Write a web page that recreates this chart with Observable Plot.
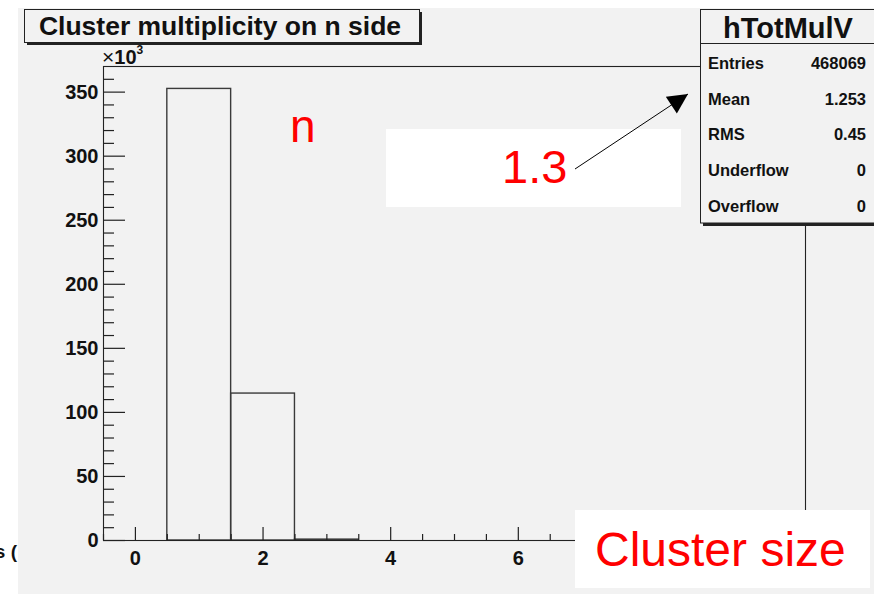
<!DOCTYPE html>
<html>
<head>
<meta charset="utf-8">
<script src="https://cdn.jsdelivr.net/npm/d3@7"></script>
<script src="https://cdn.jsdelivr.net/npm/@observablehq/plot@0.6"></script>
<style>
  html, body { margin: 0; padding: 0; background: #ffffff; }
  #wrap { position: relative; width: 874px; height: 595px; overflow: hidden; font-family: "Liberation Sans", Arial, Helvetica, sans-serif; }
  #pad { position: absolute; left: 18px; top: 8px; width: 856px; height: 586px; background: #f2f2f2; }
  #chart { position: absolute; left: 0; top: 0; }
  #overlay { position: absolute; left: 0; top: 0; pointer-events: none; }
</style>
</head>
<body>
<div id="wrap">
  <div id="pad"></div>
  <div id="chart"></div>
  <svg id="overlay" width="874" height="595"></svg>
</div>
<script>
// ---- data ----
const binCenters = [0, 1, 2, 3, 4, 5, 6, 7, 8, 9, 10];
const binCounts  = [0, 352500, 114700, 700, 0, 0, 0, 0, 0, 0, 0];
const xMajorTicks = [0, 2, 4, 6, 8, 10];
const xLabelTicks = [0, 2, 4, 6];          // 8 and 10 are hidden under the "Cluster size" box
const xMinorTicks = [-0.5, 0.5, 1, 1.5, 2.5, 3, 3.5, 4.5, 5, 5.5, 6.5, 7, 7.5, 8.5, 9, 9.5, 10.5];
const yMajorTicks = [0, 50000, 100000, 150000, 200000, 250000, 300000, 350000];
const yMinorTicks = d3.range(0, 361000, 10000).filter(v => v % 50000 !== 0);
const chartTitle = "Cluster multiplicity on n side";
const histName = "hTotMulV";
const statNames  = ["Entries", "Mean", "RMS", "Underflow", "Overflow"];
const statValues = ["468069", "1.253", "0.45", "0", "0"];
const noteSide = "n";
const noteMean = "1.3";
const noteAxis = "Cluster size";

const hist = binCenters.map((c, i) => ({x1: c - 0.5, x2: c + 0.5, count: binCounts[i]}));

const font = "Liberation Sans, Arial, Helvetica, sans-serif";
const chart = Plot.plot({
  width: 874,
  height: 595,
  marginLeft: 103,
  marginRight: 69,
  marginTop: 66,
  marginBottom: 55,
  style: {background: "transparent", fontFamily: font, color: "#111", overflow: "visible"},
  x: {domain: [-0.5, 10.5]},
  y: {domain: [0, 370000]},
  marks: [
    Plot.rect(hist, {x1: "x1", x2: "x2", y1: () => 0, y2: "count", fill: "none", stroke: "#3a3a3a", strokeWidth: 1.4}),
    Plot.axisX(xMinorTicks, {tickSize: -6, fill: "none", label: null, stroke: "#222", strokeWidth: 1.2}),
    Plot.axisX(xMajorTicks, {tickSize: -13, fill: "none", label: null, stroke: "#222", strokeWidth: 1.2}),
    Plot.axisX(xLabelTicks, {tickSize: 0, tickPadding: 10, fontSize: 20, fontWeight: "bold", label: null, tickFormat: d => String(d)}),
    Plot.axisY(yMinorTicks, {tickSize: -11, fill: "none", label: null, stroke: "#222", strokeWidth: 1.2}),
    Plot.axisY(yMajorTicks, {tickSize: -22, fill: "none", label: null, stroke: "#222", strokeWidth: 1.2}),
    Plot.axisY(yMajorTicks, {tickSize: 0, tickPadding: 5, fontSize: 20, fontWeight: "bold", label: null, tickFormat: d => String(d / 1000)}),
    Plot.frame({stroke: "#222", strokeWidth: 1.1})
  ]
});
document.getElementById("chart").appendChild(chart);

// ---- overlay: title box, exponent, stats box, annotations ----
const svg = d3.select("#overlay");
const defs = svg.append("defs");
defs.append("marker").attr("id", "head").attr("viewBox", "0 0 10 10")
  .attr("refX", 10).attr("refY", 5).attr("markerWidth", 26).attr("markerHeight", 20)
  .attr("markerUnits", "userSpaceOnUse").attr("orient", "auto")
  .append("path").attr("d", "M0,0 L10,5 L0,10 Z").attr("fill", "#000");

// stray clipped text at far left
svg.append("text").attr("x", 17).attr("y", 558).attr("text-anchor", "end")
  .attr("font-family", font).attr("font-size", 19).attr("font-weight", "bold").attr("fill", "#111").text("s (");

// title box with shadow
svg.append("rect").attr("x", 27).attr("y", 12).attr("width", 395).attr("height", 33).attr("fill", "#222");
svg.append("rect").attr("x", 24.5).attr("y", 9.5).attr("width", 395).attr("height", 33)
  .attr("fill", "#f2f2f2").attr("stroke", "#222").attr("stroke-width", 1);
svg.append("text").attr("x", 220).attr("y", 35).attr("text-anchor", "middle")
  .attr("font-family", font).attr("font-size", 26.5).attr("font-weight", "bold").attr("fill", "#111").text(chartTitle);

// x10^3
const ex = svg.append("text").attr("x", 102).attr("y", 64).attr("font-family", font).attr("fill", "#111");
ex.append("tspan").attr("font-size", 21).text("\u00d7");
ex.append("tspan").attr("font-size", 20).attr("font-weight", "bold").text("10");
ex.append("tspan").attr("font-size", 12).attr("font-weight", "bold").attr("dy", -10).text("3");

// stats box
svg.append("rect").attr("x", 703).attr("y", 12).attr("width", 200).attr("height", 214).attr("fill", "#222");
svg.append("rect").attr("x", 700.5).attr("y", 9.5).attr("width", 200).attr("height", 213.5)
  .attr("fill", "#f2f2f2").attr("stroke", "#222").attr("stroke-width", 1);
svg.append("line").attr("x1", 700).attr("x2", 874).attr("y1", 43.5).attr("y2", 43.5).attr("stroke", "#222").attr("stroke-width", 1.2);
svg.append("text").attr("x", 788).attr("y", 38).attr("text-anchor", "middle")
  .attr("font-family", font).attr("font-size", 29).attr("font-weight", "bold").attr("fill", "#111").text(histName);
const rowY = [69, 105, 140, 176, 212];
statNames.forEach((n, i) => {
  svg.append("text").attr("x", 708).attr("y", rowY[i]).attr("font-family", font).attr("font-size", 16.5)
    .attr("font-weight", "bold").attr("fill", "#111").text(n);
  svg.append("text").attr("x", 866).attr("y", rowY[i]).attr("text-anchor", "end").attr("font-family", font)
    .attr("font-size", 16.5).attr("font-weight", "bold").attr("fill", "#111").text(statValues[i]);
});

// red "n"
svg.append("text").attr("x", 290).attr("y", 142).attr("font-family", font).attr("font-size", 46)
  .attr("fill", "#ff0000").text(noteSide);

// white box with "1.3" and arrow
svg.append("rect").attr("x", 386).attr("y", 129).attr("width", 295).attr("height", 78).attr("fill", "#ffffff");
svg.append("text").attr("x", 502).attr("y", 183).attr("font-family", font).attr("font-size", 47)
  .attr("fill", "#ff0000").text(noteMean);
svg.append("line").attr("x1", 575).attr("y1", 169).attr("x2", 688).attr("y2", 94)
  .attr("stroke", "#000").attr("stroke-width", 1).attr("marker-end", "url(#head)");

// white box with "Cluster size"
svg.append("rect").attr("x", 575).attr("y", 510).attr("width", 295).attr("height", 78).attr("fill", "#ffffff");
svg.append("text").attr("x", 595).attr("y", 566).attr("font-family", font).attr("font-size", 48)
  .attr("fill", "#ff0000").text(noteAxis);
</script>
</body>
</html>
